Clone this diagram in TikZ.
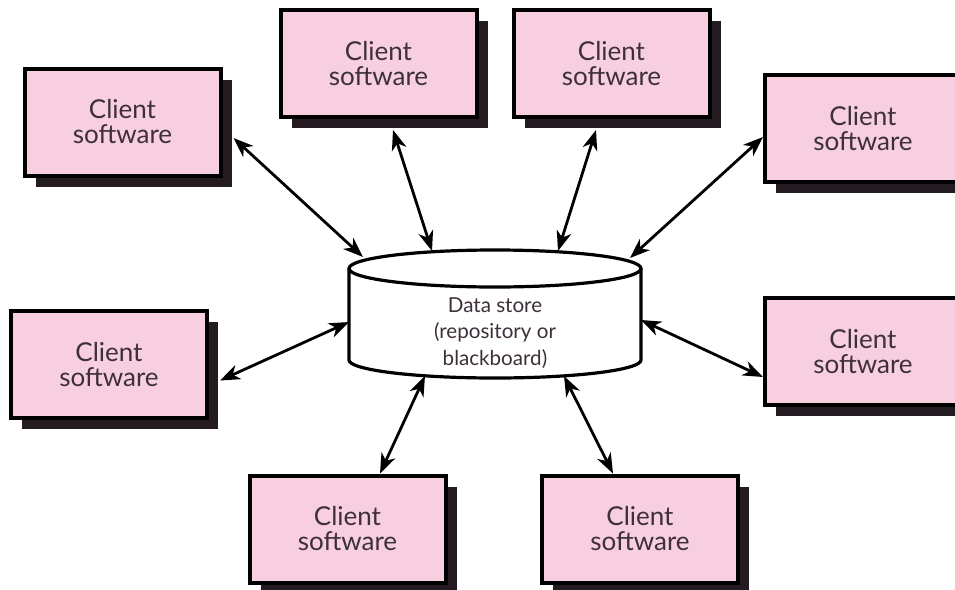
\documentclass[tikz,border=0pt]{standalone}
\usepackage{fontspec}
\setmainfont{Lato}
\usepackage{tikz}
\usetikzlibrary{arrows.meta,shadows}

\definecolor{boxpink}{RGB}{247,207,225}
\definecolor{shadowgray}{RGB}{35,27,32}
\definecolor{textgray}{RGB}{62,48,58}

\begin{document}
\begin{tikzpicture}[x=0.5pt,y=-0.5pt]
\tikzstyle{client}=[rectangle,draw=black,line width=2pt,fill=boxpink,minimum width=98pt,minimum height=53.5pt,align=center,text=textgray,font=\fontsize{13}{12.5}\selectfont,drop shadow={shadow xshift=5.5pt,shadow yshift=-5.5pt,fill=shadowgray,opacity=1}]
\tikzstyle{link}=[line width=1.4pt,{Stealth[length=10pt,width=7.5pt,inset=3pt]}-{Stealth[length=10pt,width=7.5pt,inset=3pt]}]
\useasboundingbox (0,0) rectangle (955,590);
% data store
\draw[line width=1.6pt,fill=white] (349,268.5) -- (349,360) arc[start angle=180,end angle=0,x radius=146,y radius=18] -- (641,268.5);
\draw[line width=1.6pt,fill=white] (495,268.5) ellipse [x radius=146,y radius=18.5];
\node [align=center,text=textgray,font=\fontsize{10.3}{13.25}\selectfont] (ds) at (495,333) {Data store\\(repository or\\blackboard)};
\coordinate (ds1) at (363,257);
\coordinate (ds2) at (432,251);
\coordinate (ds3) at (558,251);
\coordinate (ds4) at (630,258);
\coordinate (ds5) at (349,322);
\coordinate (ds6) at (641,320);
\coordinate (ds7) at (425,376);
\coordinate (ds8) at (564,376);
% clients
\node [client] (c1) at (122.5,122) {Client\\software};
\node [client] (c2) at (378.5,63.5) {Client\\software};
\node [client] (c3) at (611.5,63.5) {Client\\software};
\node [client] (c4) at (863,128.5) {Client\\software};
\node [client] (c5) at (109,364.5) {Client\\software};
\node [client] (c6) at (863,351.5) {Client\\software};
\node [client] (c7) at (347.5,529) {Client\\software};
\node [client] (c8) at (640,529) {Client\\software};
% links
\draw [link] ([shift={(5.5pt,-8pt)}]c1.east) -- (ds1);
\draw [link] ([shift={(7.25pt,-5.5pt)}]c2.south) -- (ds2);
\draw [link] ([shift={(-7.75pt,-5.5pt)}]c3.south) -- (ds3);
\draw [link] ([yshift=-4.25pt]c4.west) -- (ds4);
\draw [link] ([shift={(5.5pt,-8pt)}]c5.east) -- (ds5);
\draw [link] ([yshift=-12.75pt]c6.west) -- (ds6);
\draw [link] ([xshift=16.25pt]c7.north) -- (ds7);
\draw [link] ([xshift=-13.5pt]c8.north) -- (ds8);
\end{tikzpicture}
\end{document}
